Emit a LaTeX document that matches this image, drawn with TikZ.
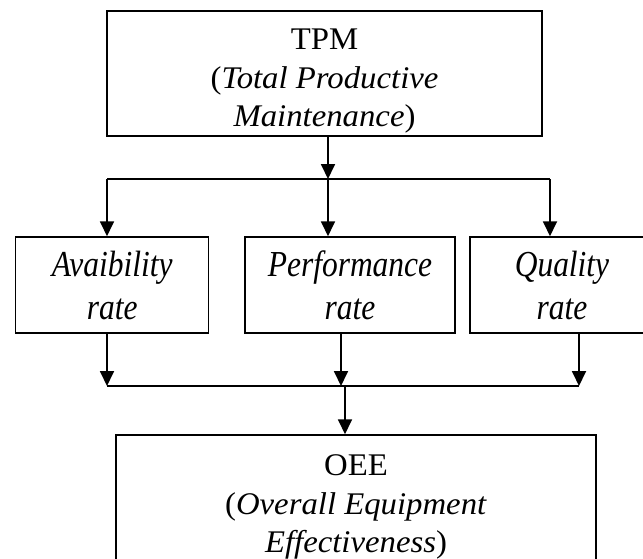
\documentclass[tikz,border=0pt]{standalone}
\usepackage{fontspec}
\setmainfont{Liberation Serif}
\newfontfamily\boxfont{Liberation Serif}[FakeStretch=1.04]
\newfontfamily\ratefont{Liberation Serif}[FakeStretch=0.86]
\usetikzlibrary{arrows.meta}

\begin{document}
\begin{tikzpicture}[x=1pt,y=-1pt,->,>={Triangle[length=15pt,width=14pt]},line width=1.8pt,
                    main box/.style={draw,rectangle,line width=1.5pt,inner sep=0pt,align=center,
                                     font=\boxfont\fontsize{31.5}{38.5}\selectfont},
                    rate box/.style={main box,minimum height=96pt,font=\ratefont\fontsize{36.6}{43}\selectfont}]

  \clip (0,0) rectangle (643,558);

  \node[main box,minimum width=435pt,minimum height=125pt] (tpm) at (324.5,73.3)
    {\rule{0pt}{37pt}TPM\\(\textit{Total Productive}\\\textit{Maintenance})};
  \node[rate box,minimum width=193pt] (avail) at (112.2,285) {\textit{Avaibility}\\\textit{rate}};
  \node[rate box,minimum width=210pt] (perf) at (350,285) {\textit{Performance}\\\textit{rate}};
  \node[rate box,minimum width=184pt] (qual) at (562,285) {\textit{Quality}\\\textit{rate}};
  \node[main box,minimum width=480pt,minimum height=137pt] (oee) at (356,503.5)
    {\rule{0pt}{28pt}OEE\\(\textit{Overall Equipment}\\\textit{Effectiveness})};

  \coordinate (forkL) at (107,179);
  \coordinate (fork) at (328,179);
  \coordinate (forkR) at (550,179);
  \coordinate (joinL) at (107,386);
  \coordinate (joinM) at (341,386);
  \coordinate (join) at (345,386);
  \coordinate (joinR) at (579,386);

  \path
    (tpm.south -| fork) edge (fork)
    (forkL) edge[-] (forkR)
            edge (forkL |- avail.north)
    (fork) edge (fork |- perf.north)
    (forkR) edge (forkR |- qual.north)
    (avail.south -| joinL) edge (joinL)
    (perf.south -| joinM) edge (joinM)
    (qual.south -| joinR) edge (joinR)
    (joinL) edge[-] (joinR)
    (join) edge (join |- oee.north);

\end{tikzpicture}
\end{document}
